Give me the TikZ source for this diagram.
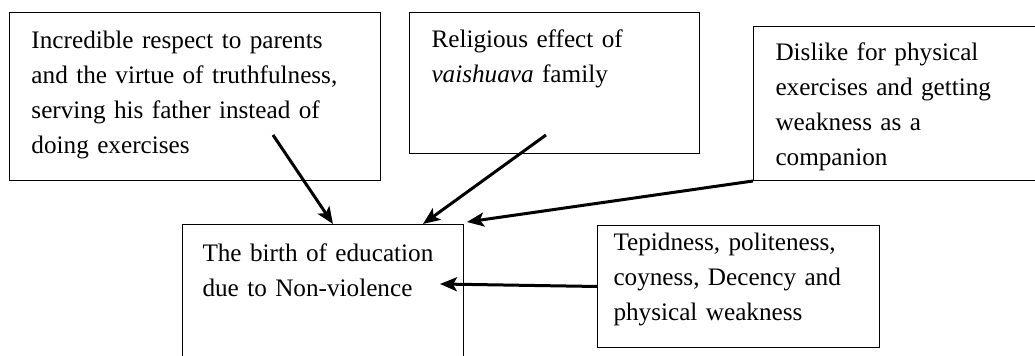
\documentclass[tikz,border=0pt]{standalone}
\usepackage{fontspec}
\setmainfont{Liberation Serif}
\usetikzlibrary{arrows.meta}

\tikzset{
  card/.style={draw, line width=0.5pt, rectangle, anchor=north west, align=left,
    inner xsep=11pt, inner ysep=0pt, font=\fontsize{12.6}{17.5}\selectfont},
  link/.style={line width=1.5pt, -{Stealth[length=8.5pt,width=7pt,inset=2pt]}}
}

\begin{document}
\begin{tikzpicture}
[x=0.5pt,y=-0.5pt]
\useasboundingbox (0,0) rectangle (1035,356);
\node[card, text width=163.5pt, text height=18pt, text depth=66pt] (resp) at (9,12)
  {Incredible respect to parents\\and the virtue of truthfulness,\\serving his father instead of\\doing exercises};
\node[card, text width=123pt, text height=17.5pt, text depth=53pt] (relig) at (409,12)
  {Religious effect of\\\textit{vaishuava} family};
\node[card, text width=123pt, text height=17pt, text depth=60pt] (dislike) at (753,26)
  {Dislike for physical\\exercises and getting\\weakness as a\\companion};
\node[card, inner xsep=10pt, text width=120.5pt, text height=18.5pt, text depth=51.5pt] (birth) at (182,224)
  {The birth of education\\due to Non-violence};
\node[card, inner xsep=8pt, text width=125pt, text height=12.5pt, text depth=48.5pt] (tepid) at (597,225)
  {Tepidness, politeness,\\coyness, Decency and\\physical weakness};
% arrow ends
\coordinate (s1) at (273,135);
\coordinate (s2) at (546,135);
\coordinate (e1) at (333,224);
\coordinate (e2) at (423,224);
\coordinate (e3) at (467,222);
\coordinate (e4) at (440,284);
\foreach \from/\to in {s1/e1,s2/e2,dislike.south west/e3,tepid.west/e4}
\draw[link] (\from) -- (\to);
\end{tikzpicture}
\end{document}
